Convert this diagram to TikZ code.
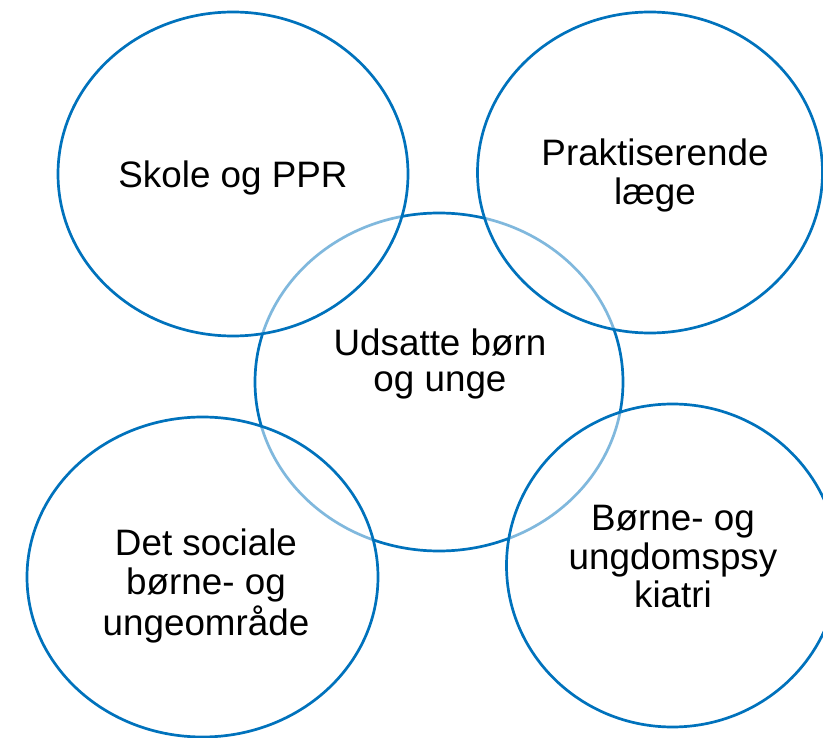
\documentclass[tikz,border=0pt]{standalone}
\usepackage{fontspec}
\setmainfont{Liberation Sans}
\usetikzlibrary{shapes.geometric}
\definecolor{ringblue}{RGB}{0,114,188}
\tikzset{
  ring/.style={ellipse, draw=ringblue, line width=2.7pt, inner sep=0pt, outer sep=0pt},
  outerring/.style={ring, fill=white, fill opacity=0.5, draw opacity=1},
  label/.style={align=center, inner sep=0pt, text=black, font=\fontsize{36.8}{36.5}\selectfont}
}
\begin{document}
\begin{tikzpicture}[x=1pt,y=-1pt]
\useasboundingbox (0,0) rectangle (823,738);
\clip (0,0) rectangle (823,738);
\fill[white] (0,0) rectangle (823,738);
% centre ring (drawn first, lightened where the outer rings cover it)
\node[ring, minimum width=368pt, minimum height=338pt] (c) at (439,382) {};
% outer rings
\node[outerring, minimum width=350pt, minimum height=324pt] (tl) at (233,174) {};
\node[outerring, minimum width=345pt, minimum height=321pt] (tr) at (650,172.5) {};
\node[outerring, minimum width=351pt, minimum height=320pt] (bl) at (202.5,577) {};
\node[outerring, minimum width=332pt, minimum height=323pt] (br) at (672.5,565.5) {};
% labels
\node[label] (tlt) at (233,179.2) {\strut Skole og PPR};
\node[label] (trt) at (655,177.2) {\strut Praktiserende\\\strut læge};
\node[label] (ct) at (440,365.5) {\strut Udsatte børn\\\strut og unge};
\node[label] (blt) at (206,587.7) {\strut Det sociale\\\strut børne- og\\\strut ungeområde};
\node[label] (brt) at (673,561.7) {\strut Børne- og\\\strut ungdomspsy\\\strut kiatri};
\end{tikzpicture}
\end{document}
